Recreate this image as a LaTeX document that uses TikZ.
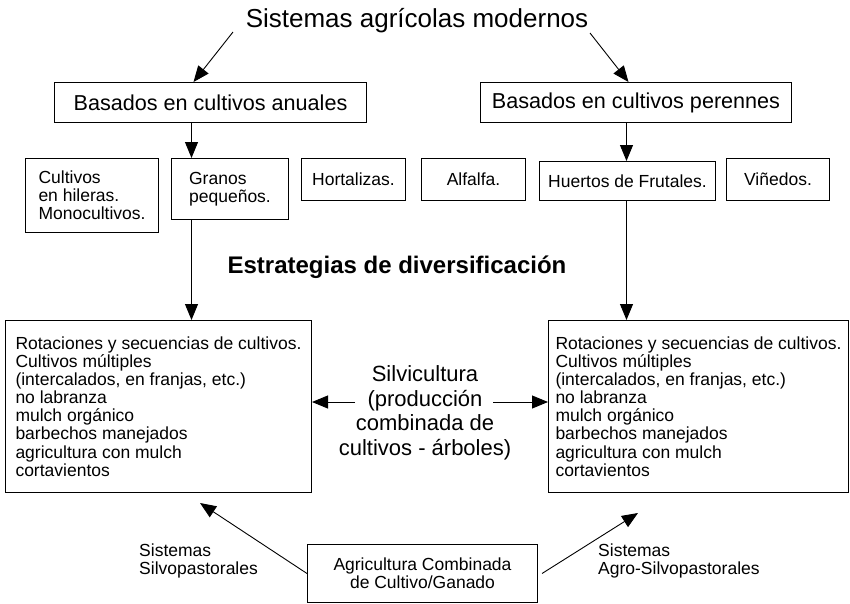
\documentclass[tikz,border=0pt]{standalone}
\usepackage{fontspec}
\setmainfont{Liberation Sans}
\usetikzlibrary{
	arrows.meta,
	positioning,
	calc
}

\begin{document}
\begin{tikzpicture}[
		x=1pt, y=-1pt,
		box/.style={draw, line width=1pt, anchor=north west, inner sep=0pt, align=center, font=\fontsize{17.5}{18}\selectfont},
		bigbox/.style={box, align=left, minimum width=306pt, minimum height=172pt, font=\fontsize{17.5}{18.1}\selectfont},
		lbl/.style={align=left, inner sep=0pt, anchor=west, font=\fontsize{17.5}{17.3}\selectfont},
		arr/.style={-{Triangle[length=16pt,width=13pt]}, line width=0.9pt}
	]
	\useasboundingbox (0,0) rectangle (850,603);
	% top level
	\node[anchor=base, inner sep=0pt, font=\fontsize{26}{28}\selectfont] (title) at (417,27) {Sistemas agrícolas modernos};
	\node[box, minimum width=312pt, minimum height=40pt, font=\fontsize{21.6}{24}\selectfont] (anuales) at (54,82) {Basados en cultivos anuales};
	\node[box, minimum width=311pt, minimum height=40pt, font=\fontsize{21.6}{24}\selectfont] (perennes) at (480,82) {Basados en cultivos perennes};
	% crops
	\node[box, align=left, minimum width=133pt, minimum height=74pt] (hileras) at (25,158) {Cultivos\\en hileras.\\Monocultivos.};
	\node[box, align=left, minimum width=117pt, minimum height=61pt] (granos) at (171,158) {Granos\\pequeños.};
	\node[box, minimum width=104pt, minimum height=42pt] (hortalizas) at (301,158) {Hortalizas.};
	\node[box, minimum width=104pt, minimum height=42pt] (alfalfa) at (421,158) {Alfalfa.};
	\node[box, minimum width=176pt, minimum height=39pt] (huertos) at (539,161) {Huertos de Frutales.};
	\node[box, minimum width=103pt, minimum height=42pt] (vinedos) at (726,158) {Viñedos.};
	% strategies
	\node[anchor=base, inner sep=0pt, font=\bfseries\fontsize{24}{26}\selectfont] (estrategias) at (397,273) {Estrategias de diversificación};
	\node[bigbox] (izq) at (5,320) {Rotaciones y secuencias de cultivos.\\Cultivos múltiples\\(intercalados, en franjas, etc.)\\no labranza\\mulch orgánico\\barbechos manejados\\agricultura con mulch\\cortavientos};
	\node[bigbox, minimum width=300pt] (der) at (548,320) {Rotaciones y secuencias de cultivos.\\Cultivos múltiples\\(intercalados, en franjas, etc.)\\no labranza\\mulch orgánico\\barbechos manejados\\agricultura con mulch\\cortavientos};
	\node[align=center, inner sep=0pt, font=\fontsize{22}{24.5}\selectfont] (silvi) at (425,413) {Silvicultura\\(producción\\combinada de\\cultivos - árboles)};
	% livestock
	\node[box, minimum width=230pt, minimum height=58pt] (ganado) at (307,544) {Agricultura Combinada\\de Cultivo/Ganado};
	\node[lbl] (silvopast) at (139,561) {Sistemas\\Silvopastorales};
	\node[lbl] (agrosilvo) at (598,561) {Sistemas\\Agro-Silvopastorales};
	\coordinate (t1) at (233,32);
	\coordinate (t2) at (590,33);
	\coordinate (sl) at (355,402);
	\coordinate (sr) at (493,402);
	\coordinate (tipL) at (200,503);
	\coordinate (tipR) at (638,513);
	\draw[arr] (t1) -- ([xshift=-17pt]anuales.north);
	\draw[arr] (t2) -- ([xshift=-7.5pt]perennes.north);
	\draw[arr] ([xshift=-19pt]anuales.south) -- ([xshift=-38.5pt]granos.north);
	\draw[arr] ([xshift=-9.5pt]perennes.south) -- ([xshift=-1pt]huertos.north);
	\draw[arr] ([xshift=-38.5pt]granos.south) -- ([xshift=33pt]izq.north);
	\draw[arr] ([xshift=-1pt]huertos.south) -- ([xshift=-72pt]der.north);
	\draw[arr] (sl) -- (sl -| izq.east);
	\draw[arr] (sr) -- (sr -| der.west);
	\draw[arr] (ganado.west) -- (tipL);
	\draw[arr] ([xshift=4pt]ganado.east) -- (tipR);
\end{tikzpicture}
\end{document}
